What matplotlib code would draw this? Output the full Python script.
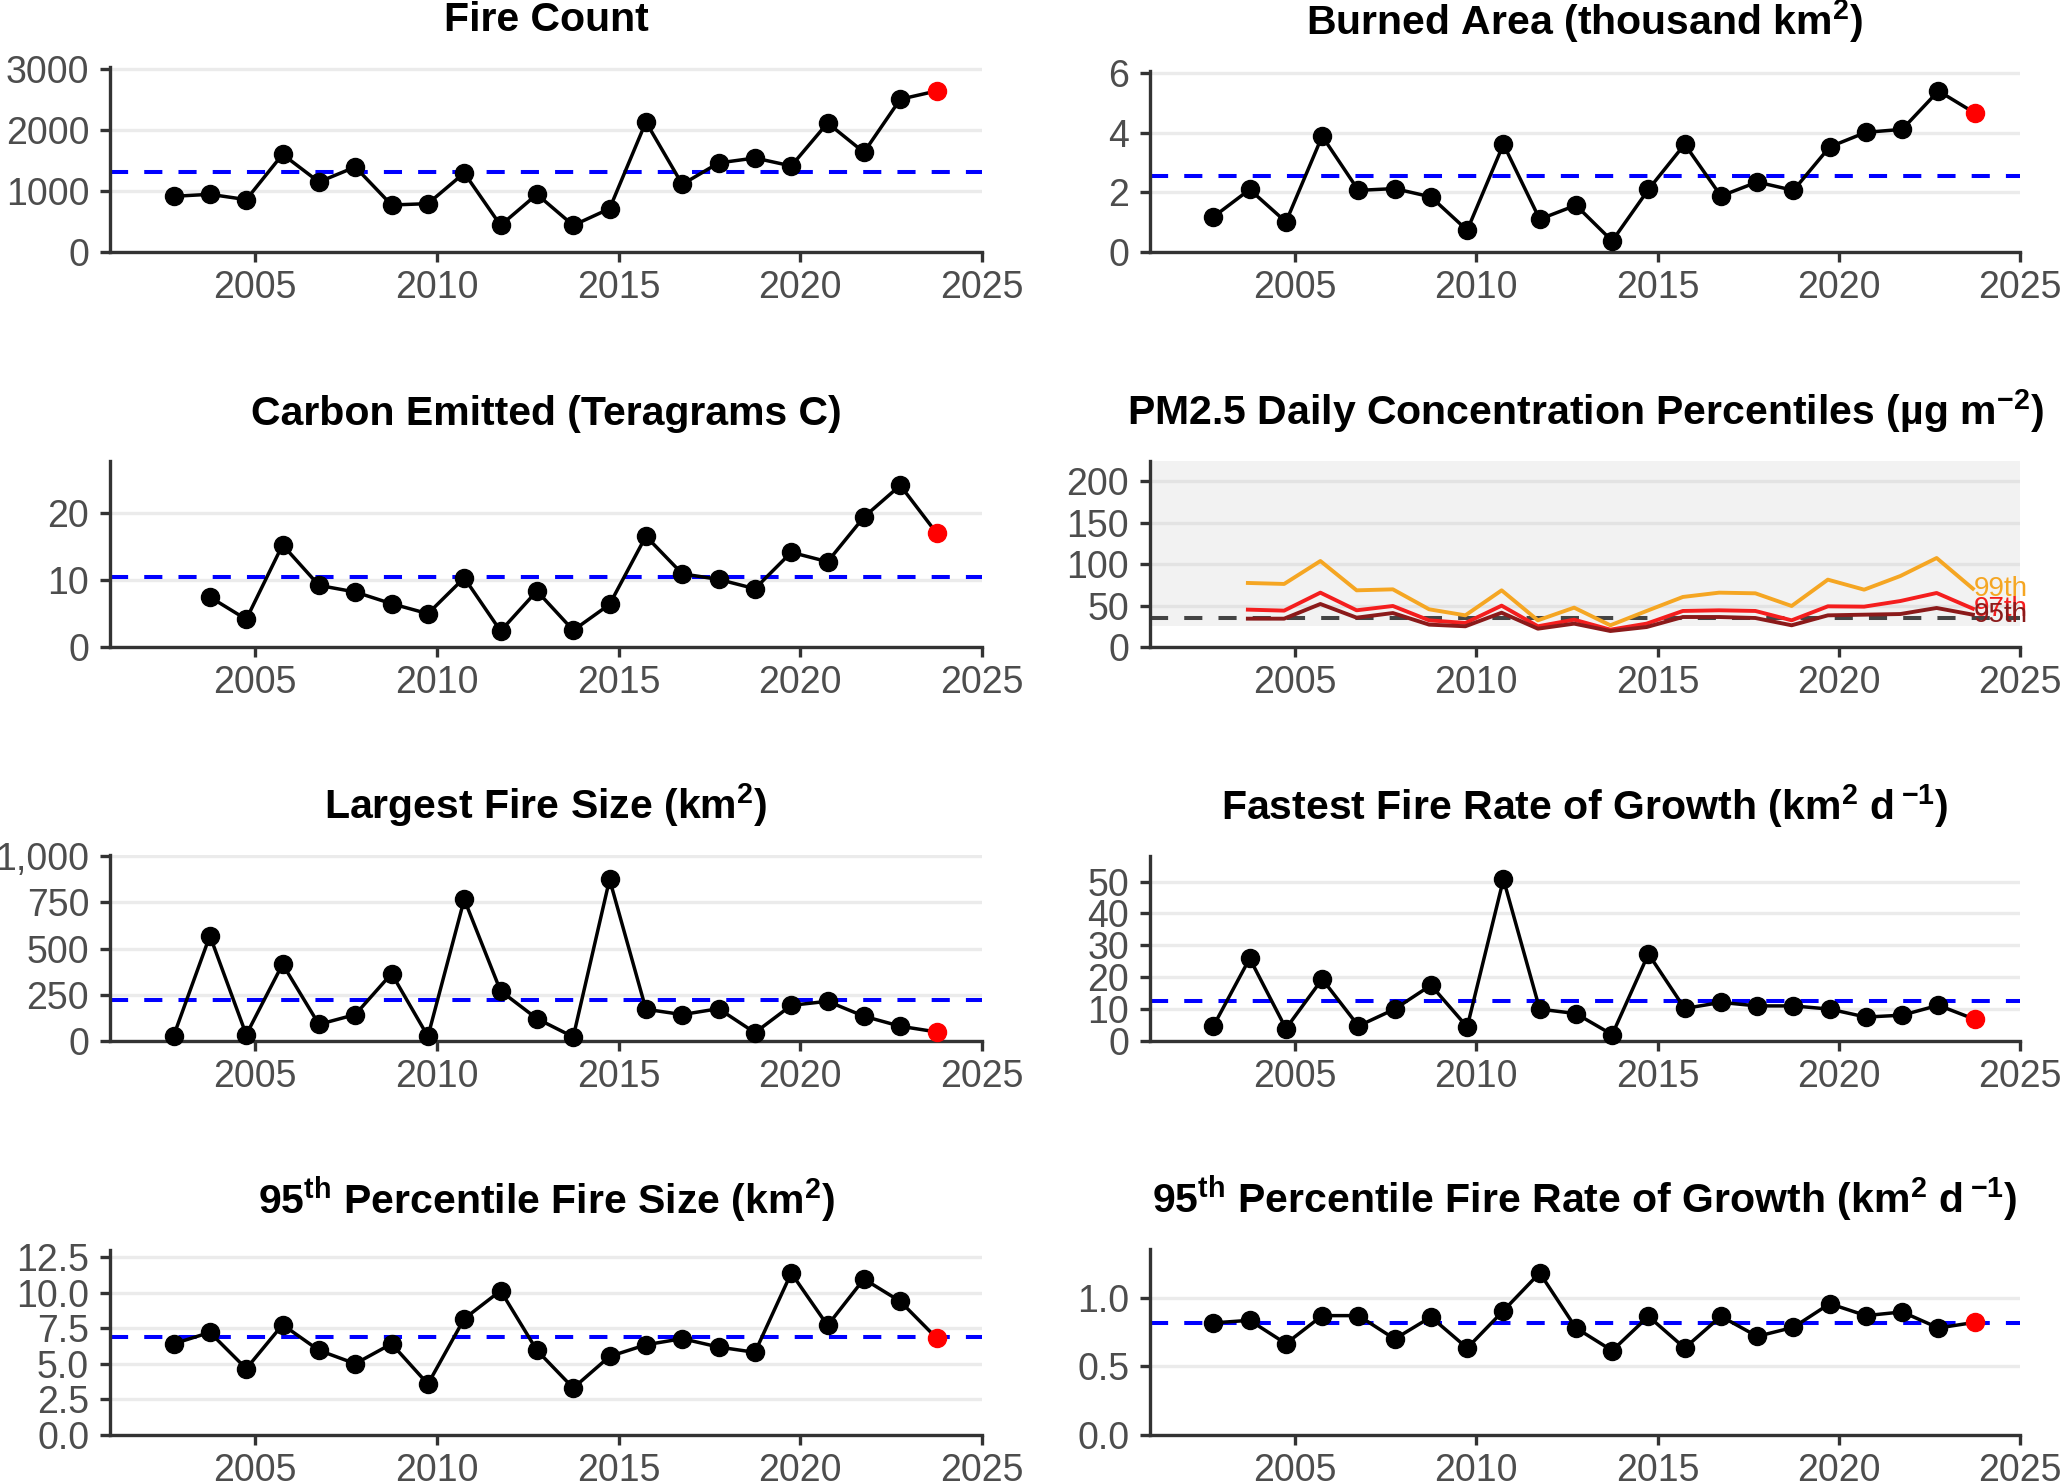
import numpy as np
import matplotlib
matplotlib.use("Agg")
from matplotlib import pyplot as plt
from matplotlib.ticker import FuncFormatter

plt.rcParams['font.family'] = ['Liberation Sans', 'DejaVu Sans']
plt.rcParams['mathtext.fontset'] = 'custom'
plt.rcParams['mathtext.rm'] = 'Liberation Sans:bold'
plt.rcParams['mathtext.it'] = 'Liberation Sans:bold'
plt.rcParams['mathtext.bf'] = 'Liberation Sans:bold'

# years of the yearly series, and of the PM2.5 series
years = np.arange(2003, 2025)
pm_years = np.arange(2004, 2025)

fire_count = [911, 944, 857, 1598, 1146, 1391, 769, 791, 1293, 436, 944, 436,
              709, 2128, 1107, 1457, 1538, 1408, 2111, 1631, 2499, 2635]
burned_area = [1.18, 2.10, 1.01, 3.89, 2.07, 2.13, 1.85, 0.73, 3.62, 1.10, 1.57,
               0.37, 2.10, 3.62, 1.88, 2.35, 2.07, 3.53, 4.02, 4.12, 5.41, 4.67]
carbon = [np.nan, 7.44, 4.12, 15.2, 9.18, 8.19, 6.45, 4.96, 10.3, 2.38, 8.34,
          2.48, 6.35, 16.5, 10.9, 10.07, 8.68, 14.1, 12.7, 19.35, 24.07, 16.97]
largest_fire = [27, 570, 34, 416, 90, 143, 365, 25, 767, 271, 121, 22, 875, 172,
                143, 175, 45, 193, 215, 134, 80, 49]
fastest_growth = [4.7, 25.9, 3.9, 19.4, 4.7, 10.0, 17.5, 4.4, 50.7, 10.0, 8.6,
                  2.0, 27.3, 10.2, 12.1, 11.0, 11.0, 10.0, 7.5, 8.1, 11.2, 6.8]
p95_size = [6.41, 7.21, 4.66, 7.75, 5.95, 5.01, 6.41, 3.58, 8.17, 10.14, 5.95,
            3.30, 5.52, 6.34, 6.77, 6.18, 5.81, 11.38, 7.70, 10.96, 9.39, 6.81]
p95_growth = [0.816, 0.835, 0.665, 0.869, 0.869, 0.699, 0.859, 0.633, 0.905,
              1.180, 0.779, 0.614, 0.864, 0.633, 0.864, 0.718, 0.784, 0.956,
              0.869, 0.896, 0.779, 0.820]

pm99 = [77.3, 76.1, 103.8, 68.4, 69.6, 45.5, 38.2, 68.4, 32.2, 47.5, 26.2, 43.5,
        60.4, 65.6, 64.8, 49.5, 81.3, 69.2, 85.7, 107.4, 70.4]
pm97 = [45.1, 43.9, 65.6, 44.3, 49.5, 32.2, 29.0, 49.9, 25.0, 33.0, 20.9, 28.2,
        43.5, 44.3, 43.5, 32.2, 49.1, 48.7, 55.5, 65.2, 46.3]
pm95 = [34.2, 34.2, 51.9, 35.4, 41.0, 27.0, 25.0, 41.4, 22.1, 28.2, 19.3, 24.1,
        36.2, 36.2, 35.0, 26.2, 38.2, 39.0, 39.8, 47.1, 39.0]
pm_labels = ['99th', '97th', '95th']
pm_standard = 35

# blue dashed reference levels
mean_fire_count = 1309
mean_burned = 2.54
mean_carbon = 10.37
mean_largest = 222
mean_fastest = 12.6
mean_p95_size = 6.88
mean_p95_growth = 0.816

W, H = 2067, 1483
fig = plt.figure(figsize=(W / 100, H / 100), dpi=100)


def make_ax(x0, x1, top, bottom):
    ax = fig.add_axes([x0 / W, 1 - bottom / H, (x1 - x0) / W, (bottom - top) / H])
    ax.spines['top'].set_visible(False)
    ax.spines['right'].set_visible(False)
    for s in ['left', 'bottom']:
        ax.spines[s].set_color('#333333')
        ax.spines[s].set_linewidth(2.4)
    ax.tick_params(length=7, width=2.4, color='#333333', labelsize=27,
                   labelcolor='#4d4d4d')
    ax.tick_params(axis='x', pad=6)
    ax.tick_params(axis='y', pad=8)
    ax.yaxis.grid(True, color='#ebebeb', lw=2.4)
    ax.set_axisbelow(True)
    ax.set_xlim(2001, 2025)
    ax.set_xticks([2005, 2010, 2015, 2020, 2025])
    return ax


def draw_series(ax, vals, mean_val, ytop, yticks, title, fmt=None):
    x = years - 0.25
    vals = np.asarray(vals, dtype=float)
    ax.axhline(mean_val, color='#0000ff', lw=2.9, dashes=(4.5, 4), zorder=2)
    ax.plot(x, vals, color='black', lw=2.5, zorder=3)
    ax.plot(x[:-1], vals[:-1], 'o', color='black', ms=13, zorder=4, clip_on=False)
    ax.plot(x[-1:], vals[-1:], 'o', color='#ff0000', ms=13, zorder=5, clip_on=False)
    ax.set_ylim(0, ytop)
    ax.set_yticks(yticks)
    if fmt is not None:
        ax.yaxis.set_major_formatter(FuncFormatter(fmt))
    ax.set_title(title, fontsize=29.5, fontweight='bold', pad=26)


LX0, LX1 = 110, 982
RX0, RX1 = 1150, 2020

ax = make_ax(LX0, LX1, 67, 252)
draw_series(ax, fire_count, mean_fire_count, 3027, [0, 1000, 2000, 3000], 'Fire Count')

ax = make_ax(RX0, RX1, 71, 252)
draw_series(ax, burned_area, mean_burned, 6.08, [0, 2, 4, 6],
            'Burned Area (thousand km$^{2}$)')

ax = make_ax(LX0, LX1, 461, 647)
draw_series(ax, carbon, mean_carbon, 27.7, [0, 10, 20], 'Carbon Emitted (Teragrams C)')

# PM2.5 panel
ax = make_ax(RX0, RX1, 461, 647)
ax.yaxis.grid(True, color='#e3e3e3', lw=2.4)
ax.axhspan(25, 224.5, color='#f2f2f2', zorder=0, lw=0)
ax.axhline(pm_standard, color='#444444', lw=2.9, dashes=(4.5, 4), zorder=2)
px = pm_years - 0.3
pm_colors = ['#f5a623', '#f41e1e', '#8b1a1a']
for vals, lab, col in zip([pm99, pm97, pm95], pm_labels, pm_colors):
    ax.plot(px, vals, color=col, lw=2.8, zorder=3)
    ax.text(px[-1] + 0.02, vals[-1], lab, color=col, fontsize=20,
            ha='left', va='center', zorder=4)
ax.set_ylim(0, 224.5)
ax.set_yticks([0, 50, 100, 150, 200])
ax.set_title('PM2.5 Daily Concentration Percentiles (µg m$^{-2}$)',
             fontsize=29.5, fontweight='bold', pad=26)

ax = make_ax(LX0, LX1, 855, 1041)
draw_series(ax, largest_fire, mean_largest, 1007, [0, 250, 500, 750, 1000],
            'Largest Fire Size (km$^{2}$)', fmt=lambda v, p: '{:,.0f}'.format(v))

ax = make_ax(RX0, RX1, 856, 1041)
draw_series(ax, fastest_growth, mean_fastest, 58, [0, 10, 20, 30, 40, 50],
            'Fastest Fire Rate of Growth (km$^{2}$ d$\\,^{-1}$)')

ax = make_ax(LX0, LX1, 1250, 1435)
draw_series(ax, p95_size, mean_p95_size, 13.0, [0, 2.5, 5, 7.5, 10, 12.5],
            '95$^{th}$ Percentile Fire Size (km$^{2}$)',
            fmt=lambda v, p: '{:.1f}'.format(v))

ax = make_ax(RX0, RX1, 1249, 1435)
draw_series(ax, p95_growth, mean_p95_growth, 1.354, [0, 0.5, 1.0],
            '95$^{th}$ Percentile Fire Rate of Growth (km$^{2}$ d$\\,^{-1}$)',
            fmt=lambda v, p: '{:.1f}'.format(v))

fig.savefig('out.png', dpi=100)
